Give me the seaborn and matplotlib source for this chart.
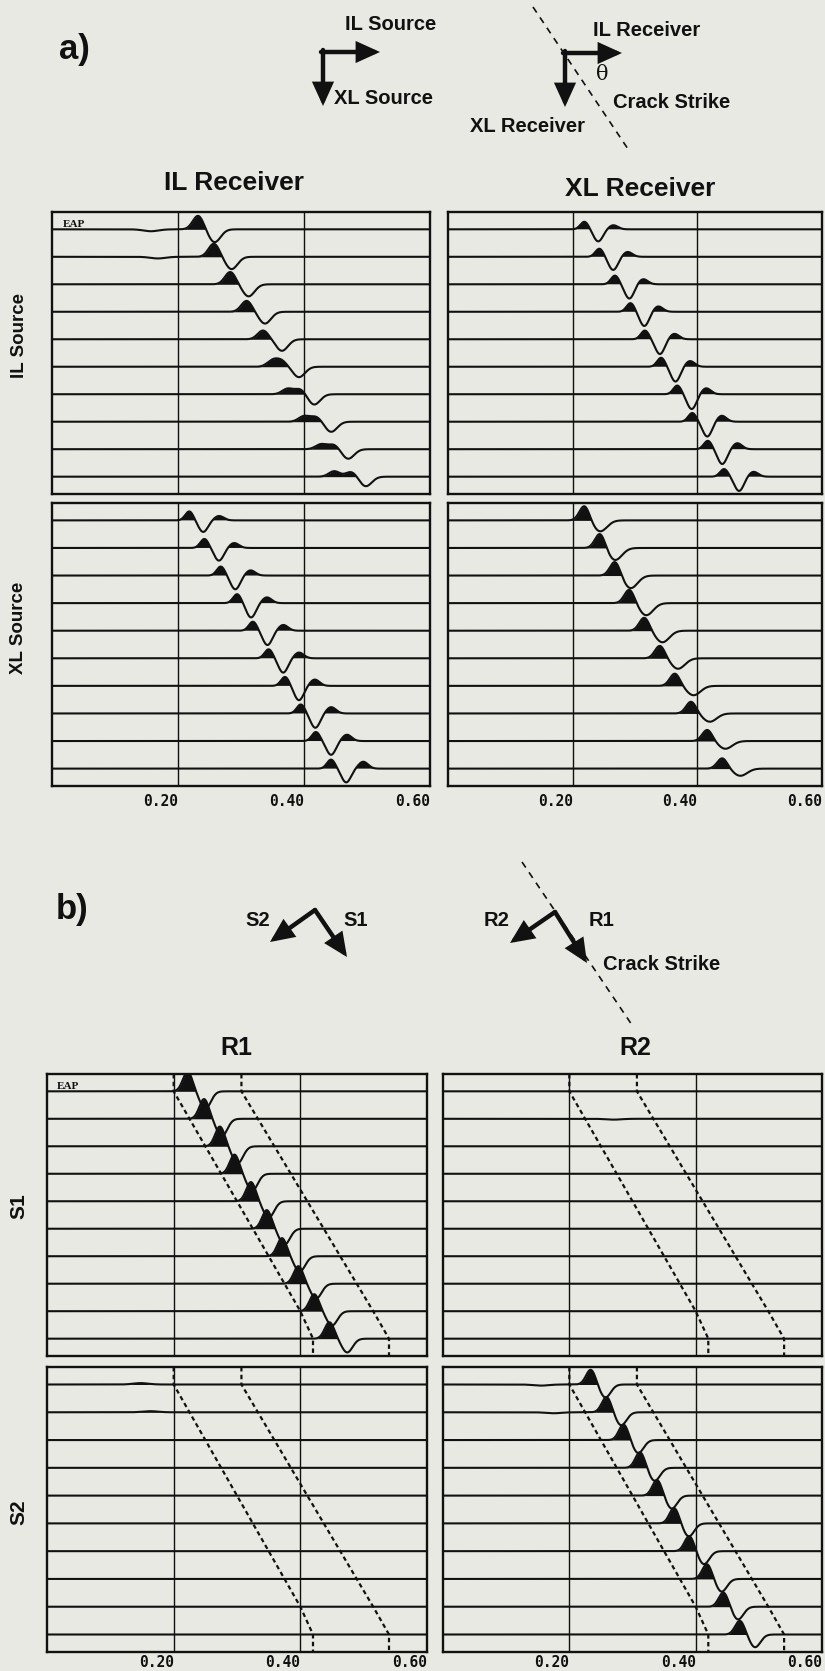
import numpy as np
import pandas as pd
import matplotlib
matplotlib.use("Agg")
import matplotlib.pyplot as plt
import seaborn as sns
from matplotlib.patches import FancyArrowPatch

# ---------------------------------------------------------------- data
N_TRACES = 10
TIME_TICKS = [0.20, 0.40, 0.60]
TICK_LABELS = ["0.20", "0.40", "0.60"]

# a) IL source / IL receiver : filled peak (double at late traces) + trough
A_ILIL_PEAK1_T = [0.232, 0.257, 0.283, 0.309, 0.335, 0.350, 0.374, 0.400, 0.427, 0.448]
A_ILIL_PEAK1_A = [0.50, 0.48, 0.45, 0.40, 0.32, 0.22, 0.20, 0.20, 0.18, 0.20]
A_ILIL_PEAK2_T = [0.232, 0.257, 0.283, 0.309, 0.335, 0.364, 0.394, 0.419, 0.447, 0.475]
A_ILIL_PEAK2_A = [0.0, 0.0, 0.0, 0.0, 0.0, 0.21, 0.19, 0.18, 0.17, 0.18]
A_ILIL_TROUGH_T = [0.258, 0.285, 0.312, 0.338, 0.365, 0.392, 0.416, 0.443, 0.470, 0.498]
A_ILIL_TROUGH_A = [0.47, 0.45, 0.44, 0.43, 0.42, 0.38, 0.38, 0.37, 0.35, 0.35]
A_ILIL_WEAK_TRACE = [0, 1]
A_ILIL_WEAK_T = [0.157, 0.168]
A_ILIL_WEAK_A = [-0.07, -0.06]

# a) IL source / XL receiver : peak, trough, peak
A_ILXL_PEAK1_T = [0.219, 0.243, 0.268, 0.293, 0.316, 0.342, 0.368, 0.392, 0.417, 0.443]
A_ILXL_PEAK1_A = [0.28, 0.30, 0.32, 0.32, 0.32, 0.33, 0.32, 0.32, 0.31, 0.28]
A_ILXL_TROUGH_T = [0.241, 0.265, 0.291, 0.315, 0.340, 0.365, 0.391, 0.416, 0.440, 0.467]
A_ILXL_TROUGH_A = [0.44, 0.48, 0.52, 0.52, 0.54, 0.54, 0.54, 0.54, 0.54, 0.52]
A_ILXL_PEAK2_T = [0.265, 0.288, 0.313, 0.337, 0.363, 0.388, 0.414, 0.439, 0.464, 0.490]
A_ILXL_PEAK2_A = [0.15, 0.18, 0.19, 0.20, 0.20, 0.21, 0.22, 0.22, 0.22, 0.18]

# a) XL source / IL receiver : peak, trough, peak
A_XLIL_PEAK1_T = [0.218, 0.242, 0.268, 0.294, 0.319, 0.344, 0.370, 0.395, 0.419, 0.443]
A_XLIL_PEAK1_A = [0.33, 0.33, 0.33, 0.33, 0.33, 0.33, 0.33, 0.33, 0.33, 0.33]
A_XLIL_TROUGH_T = [0.240, 0.265, 0.291, 0.316, 0.342, 0.367, 0.392, 0.418, 0.443, 0.467]
A_XLIL_TROUGH_A = [0.42, 0.46, 0.50, 0.52, 0.52, 0.52, 0.52, 0.52, 0.50, 0.50]
A_XLIL_PEAK2_T = [0.265, 0.289, 0.315, 0.341, 0.367, 0.392, 0.417, 0.443, 0.468, 0.494]
A_XLIL_PEAK2_A = [0.16, 0.18, 0.19, 0.21, 0.21, 0.21, 0.23, 0.23, 0.23, 0.25]

# a) XL source / XL receiver : big peak + broad trough
A_XLXL_PEAK_T = [0.219, 0.244, 0.268, 0.291, 0.315, 0.340, 0.364, 0.390, 0.416, 0.440]
A_XLXL_PEAK_A = [0.54, 0.54, 0.52, 0.50, 0.48, 0.46, 0.45, 0.43, 0.41, 0.38]
A_XLXL_TROUGH_T = [0.244, 0.268, 0.293, 0.318, 0.344, 0.369, 0.394, 0.420, 0.445, 0.469]
A_XLXL_TROUGH_A = [0.40, 0.44, 0.46, 0.44, 0.42, 0.38, 0.34, 0.30, 0.28, 0.26]

# b) S1 / R1
B_S1R1_PEAK_T = [0.222, 0.248, 0.273, 0.296, 0.322, 0.347, 0.371, 0.397, 0.422, 0.446]
B_S1R1_PEAK_A = [0.72, 0.72, 0.72, 0.70, 0.70, 0.68, 0.66, 0.64, 0.62, 0.60]
B_S1R1_TROUGH_T = [0.250, 0.276, 0.301, 0.324, 0.350, 0.375, 0.399, 0.425, 0.450, 0.474]
B_S1R1_TROUGH_A = [0.64, 0.64, 0.62, 0.62, 0.60, 0.58, 0.56, 0.54, 0.52, 0.50]

# b) S1 / R2 and S2 / R1 : nearly flat
B_S1R2_WEAK_TRACE = [1]
B_S1R2_WEAK_T = [0.270]
B_S1R2_WEAK_A = [-0.03]
B_S2R1_WEAK_TRACE = [0, 1]
B_S2R1_WEAK_T = [0.148, 0.163]
B_S2R1_WEAK_A = [0.05, 0.04]

# b) S2 / R2
B_S2R2_PEAK_T = [0.234, 0.259, 0.286, 0.312, 0.339, 0.366, 0.390, 0.418, 0.444, 0.470]
B_S2R2_PEAK_A = [0.54, 0.56, 0.57, 0.57, 0.57, 0.56, 0.55, 0.54, 0.52, 0.50]
B_S2R2_TROUGH_T = [0.257, 0.282, 0.309, 0.335, 0.362, 0.389, 0.413, 0.441, 0.467, 0.494]
B_S2R2_TROUGH_A = [0.47, 0.47, 0.47, 0.47, 0.47, 0.47, 0.47, 0.46, 0.46, 0.46]
B_S2R2_WEAK_TRACE = [0, 1]
B_S2R2_WEAK_T = [0.155, 0.175]
B_S2R2_WEAK_A = [-0.04, -0.035]

# b) analysis window (dashed lines)
B_WIN_START = [0.200, 0.225, 0.250, 0.275, 0.300, 0.325, 0.350, 0.375, 0.400, 0.420]
B_WIN_END = [0.307, 0.333, 0.359, 0.385, 0.411, 0.437, 0.463, 0.489, 0.515, 0.540]

# ---------------------------------------------------------------- style
sns.set_theme(style="white")
plt.rcParams["font.family"] = ["Liberation Sans", "DejaVu Sans"]

BG = "#e9e9e3"
INK = "#111111"
W, H = 825, 1671
fig = plt.figure(figsize=(W / 100, H / 100), dpi=100, facecolor=BG)

T = np.linspace(0.0, 0.6, 1501)
YTOP, YBOT = 0.63, -(N_TRACES - 1) - 0.63


def rect(x0, y0, x1, y1):
    return [x0 / W, 1 - y1 / H, (x1 - x0) / W, (y1 - y0) / H]


def wave(i, comps, weak):
    w = np.zeros_like(T)
    for times, amps, sig, sgn in comps:
        w += sgn * amps[i] * np.exp(-0.5 * ((T - times[i]) / sig) ** 2)
    if weak is not None:
        for tr, tt, aa in zip(*weak):
            if tr == i:
                w += aa * np.exp(-0.5 * ((T - tt) / 0.012) ** 2)
    return w


def panel(box, comps, weak=None, window=None, eap=None, labels=False, pad=6.5):
    ax = fig.add_axes(rect(*box))
    ax.set_facecolor(BG)
    frames = []
    for i in range(N_TRACES):
        w = wave(i, comps, weak)
        base = -i
        ax.fill_between(T, base, base + w, where=w > 0.004, interpolate=True,
                        color=INK, lw=0, zorder=3)
        frames.append(pd.DataFrame({"t": T, "y": base + w, "trace": i}))
    df = pd.concat(frames, ignore_index=True)
    sns.lineplot(data=df, x="t", y="y", units="trace", estimator=None,
                 color=INK, lw=1.5, ax=ax, legend=False, zorder=4)
    for xv in TIME_TICKS[:2]:
        ax.axvline(xv, color=INK, lw=1.0, zorder=2)
    if window is not None:
        for ws in window:
            xs = [ws[0]] + list(ws) + [ws[-1]]
            ys = [YTOP] + [-k for k in range(N_TRACES)] + [YBOT]
            ax.plot(xs, ys, color=INK, lw=1.6, ls=(0, (2.0, 1.5)), zorder=5)
    if eap is not None:
        ax.text(eap, 0.97, "EAP", transform=ax.transAxes, ha="left", va="top",
                fontsize=8, fontweight="bold", fontfamily="Liberation Serif",
                color=INK)
    ax.set_xlim(0.0, 0.6)
    ax.set_ylim(YBOT, YTOP)
    ax.set_xlabel("")
    ax.set_ylabel("")
    ax.set_yticks([])
    ax.set_xticks(TIME_TICKS)
    if labels:
        ax.set_xticklabels(TICK_LABELS, ha="right", fontfamily="DejaVu Sans Mono",
                           fontsize=10.5, fontweight="bold", color=INK)
    ax.tick_params(axis="x", length=0, pad=pad, labelbottom=labels)
    for sp in ax.spines.values():
        sp.set_color(INK)
        sp.set_linewidth(1.7)
    return ax


panel((52, 212, 430, 494),
      [(A_ILIL_PEAK1_T, A_ILIL_PEAK1_A, 0.0085, 1), (A_ILIL_PEAK2_T, A_ILIL_PEAK2_A, 0.0085, 1),
       (A_ILIL_TROUGH_T, A_ILIL_TROUGH_A, 0.0095, -1)],
      weak=(A_ILIL_WEAK_TRACE, A_ILIL_WEAK_T, A_ILIL_WEAK_A), eap=0.028)
panel((448, 212, 822, 494),
      [(A_ILXL_PEAK1_T, A_ILXL_PEAK1_A, 0.0065, 1), (A_ILXL_TROUGH_T, A_ILXL_TROUGH_A, 0.0075, -1),
       (A_ILXL_PEAK2_T, A_ILXL_PEAK2_A, 0.0075, 1)])
panel((52, 503, 430, 786),
      [(A_XLIL_PEAK1_T, A_XLIL_PEAK1_A, 0.0065, 1), (A_XLIL_TROUGH_T, A_XLIL_TROUGH_A, 0.0075, -1),
       (A_XLIL_PEAK2_T, A_XLIL_PEAK2_A, 0.0075, 1)], labels=True, pad=6.0)
panel((448, 503, 822, 786),
      [(A_XLXL_PEAK_T, A_XLXL_PEAK_A, 0.008, 1), (A_XLXL_TROUGH_T, A_XLXL_TROUGH_A, 0.011, -1)],
      labels=True, pad=6.0)

win = (B_WIN_START, B_WIN_END)
panel((47, 1074, 427, 1356),
      [(B_S1R1_PEAK_T, B_S1R1_PEAK_A, 0.0075, 1), (B_S1R1_TROUGH_T, B_S1R1_TROUGH_A, 0.0085, -1)],
      window=win, eap=0.025)
panel((443, 1074, 822, 1356), [], weak=(B_S1R2_WEAK_TRACE, B_S1R2_WEAK_T, B_S1R2_WEAK_A),
      window=win)
panel((47, 1367, 427, 1652), [], weak=(B_S2R1_WEAK_TRACE, B_S2R1_WEAK_T, B_S2R1_WEAK_A),
      window=win, labels=True, pad=2.0)
panel((443, 1367, 822, 1652),
      [(B_S2R2_PEAK_T, B_S2R2_PEAK_A, 0.0075, 1), (B_S2R2_TROUGH_T, B_S2R2_TROUGH_A, 0.0085, -1)],
      weak=(B_S2R2_WEAK_TRACE, B_S2R2_WEAK_T, B_S2R2_WEAK_A), window=win, labels=True, pad=2.0)

# ---------------------------------------------------------------- overlay annotations
ov = fig.add_axes([0, 0, 1, 1])
ov.set_xlim(0, W)
ov.set_ylim(H, 0)
ov.axis("off")
ov.patch.set_alpha(0)


def arrow(x0, y0, x1, y1):
    ov.add_patch(FancyArrowPatch((x0, y0), (x1, y1),
                                 arrowstyle="-|>,head_length=1.1,head_width=0.5",
                                 mutation_scale=11, lw=3.2, color=INK,
                                 shrinkA=0, shrinkB=0, joinstyle="miter"))


def txt(x, y, s, size=14.5, ha="center", **kw):
    ov.text(x, y, s, fontsize=size, fontweight="bold", ha=ha, va="center",
            color=INK, **kw)


# a) header
txt(74, 49, "a)", size=25)
arrow(321, 52, 380, 52)
arrow(323, 50, 323, 106)
txt(391, 25, "IL Source")
txt(383, 98, "XL Source")
ov.plot([533, 630], [7, 152], color=INK, lw=1.2, ls=(0, (4, 3.5)))
arrow(563, 53, 622, 53)
arrow(565, 51, 565, 107)
txt(593, 30, "IL Receiver", ha="left")
ov.text(602, 75, "\u03b8", fontsize=15, ha="center", va="center",
        fontfamily="DejaVu Serif", color=INK)
txt(613, 102, "Crack Strike", ha="left")
txt(528, 127, "XL Receiver")
txt(234, 183, "IL Receiver", size=19)
txt(640, 189, "XL Receiver", size=19)
txt(19, 336, "IL Source", size=13.5, rotation=90)
txt(19, 628, "XL Source", size=13.5, rotation=90)

# b) header
txt(72, 909, "b)", size=25)
arrow(315, 910, 270, 942)
arrow(315, 910, 347, 957)
txt(258, 920, "S2")
txt(356, 920, "S1")
ov.plot([522, 632], [862, 1025], color=INK, lw=1.2, ls=(0, (4, 3.5)))
arrow(555, 912, 510, 943)
arrow(555, 912, 587, 963)
txt(497, 920, "R2")
txt(601, 920, "R1")
txt(603, 965, "Crack Strike", ha="left")
txt(236, 1048, "R1", size=18)
txt(635, 1048, "R2", size=18)
txt(19, 1206, "S1", size=15, rotation=90)
txt(19, 1512, "S2", size=15, rotation=90)

fig.savefig("out.png", dpi=100, facecolor=BG)
